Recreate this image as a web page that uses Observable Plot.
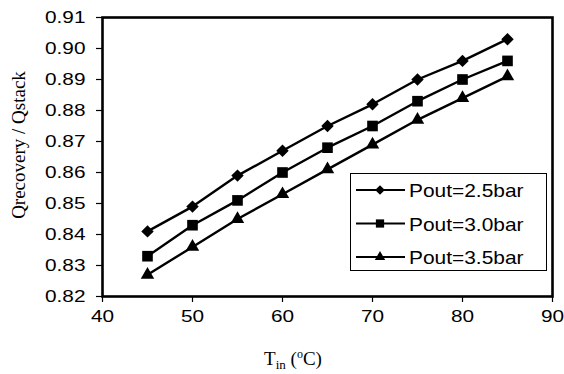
<!DOCTYPE html>
<html><head><meta charset="utf-8">
<script src="https://cdn.jsdelivr.net/npm/d3@7"></script>
<script src="https://cdn.jsdelivr.net/npm/@observablehq/plot@0.6"></script>
<style>body{margin:0;background:#fff} svg{display:block}</style>
</head><body><div id="chart"></div>
<script>
const tin = [45, 50, 55, 60, 65, 70, 75, 80, 85];
const series = ["Pout=2.5bar", "Pout=3.0bar", "Pout=3.5bar"];
const ratio25 = [0.841, 0.849, 0.859, 0.867, 0.875, 0.882, 0.890, 0.896, 0.903];
const ratio30 = [0.833, 0.843, 0.851, 0.860, 0.868, 0.875, 0.883, 0.890, 0.896];
const ratio35 = [0.827, 0.836, 0.845, 0.853, 0.861, 0.869, 0.877, 0.884, 0.891];
const yTicks = [0.82, 0.83, 0.84, 0.85, 0.86, 0.87, 0.88, 0.89, 0.90, 0.91];
const xTicks = [40, 50, 60, 70, 80, 90];
const yLabel = "Qrecovery / Qstack";
const symbols = ["diamond2", "square", "triangle"];
const radii = [5.6, 6.0, 5.0];

const rows = [];
[ratio25, ratio30, ratio35].forEach((vals, i) =>
  vals.forEach((v, j) => rows.push({t: tin[j], r: v, s: series[i]})));

const chart = Plot.plot({
  width: 564, height: 374,
  marginLeft: 102, marginTop: 17, marginRight: 12, marginBottom: 78,
  style: {fontFamily: "'Liberation Sans', Arial, sans-serif", fontSize: "16.5px", color: "#000", background: "#fff"},
  x: {domain: [40, 90]},
  y: {domain: [0.82, 0.91]},
  marks: [
    Plot.axisY({ticks: yTicks, tickFormat: ".2f", tickSize: 6, tickPadding: 11, label: null, strokeWidth: 1.2}),
    Plot.axisX({ticks: xTicks, tickSize: 6, tickPadding: 8, label: null, strokeWidth: 1.2}),
    Plot.line(rows, {x: "t", y: "r", z: "s", stroke: "black", strokeWidth: 2.4}),
    ...series.map((s, i) => Plot.dot(rows, {filter: d => d.s === s, x: "t", y: "r", symbol: symbols[i], r: radii[i], fill: "black", stroke: "none"})),
    Plot.frame({stroke: "black", strokeWidth: 2.6}),
    Plot.text([yLabel], {frameAnchor: "left", textAnchor: "middle", rotate: -90, dx: -84, dy: -12, fontFamily: "'Liberation Serif', 'Times New Roman', serif", fontSize: 19})
  ]
});
document.getElementById("chart").appendChild(chart);

const svg = d3.select(chart);
// widen sans labels as in the reference
svg.selectAll('g[aria-label$="tick label"] text').each(function() {
  const w = this.getComputedTextLength();
  d3.select(this).attr("textLength", w * 1.26).attr("lengthAdjust", "spacingAndGlyphs");
});

// x axis title with subscript/superscript
const xt = svg.append("text")
  .attr("x", 293).attr("y", 365)
  .attr("text-anchor", "middle")
  .attr("font-family", "'Liberation Serif', 'Times New Roman', serif")
  .attr("font-size", 19).attr("fill", "black");
xt.append("tspan").text("T");
xt.append("tspan").attr("font-size", 13).attr("dy", 4).text("in");
xt.append("tspan").attr("dy", -4).text(" (");
xt.append("tspan").attr("font-size", 12).attr("dy", -7).text("o");
xt.append("tspan").attr("dy", 7).text("C)");

// legend
const lg = svg.append("g");
lg.append("rect").attr("x", 350.5).attr("y", 173.5).attr("width", 196).attr("height", 97)
  .attr("fill", "white").attr("stroke", "black").attr("stroke-width", 1);
const symMap = {diamond2: d3.symbolDiamond2, square: d3.symbolSquare, triangle: d3.symbolTriangle};
series.forEach((s, i) => {
  const cy = 190 + i * 33.5;
  lg.append("line").attr("x1", 356).attr("x2", 405).attr("y1", cy).attr("y2", cy)
    .attr("stroke", "black").attr("stroke-width", 2);
  lg.append("path").attr("transform", `translate(380,${cy})`)
    .attr("d", d3.symbol(symMap[symbols[i]], Math.PI * radii[i] * radii[i] * 0.6)())
    .attr("fill", "black");
  const t = lg.append("text").attr("x", 409).attr("y", cy + 7)
    .attr("text-anchor", "start")
    .attr("font-family", "'Liberation Sans', Arial, sans-serif").attr("font-size", 18.5)
    .attr("fill", "black").text(s);
  const w = t.node().getComputedTextLength();
  t.attr("textLength", w * 1.13).attr("lengthAdjust", "spacingAndGlyphs");
});
</script>
</body></html>
